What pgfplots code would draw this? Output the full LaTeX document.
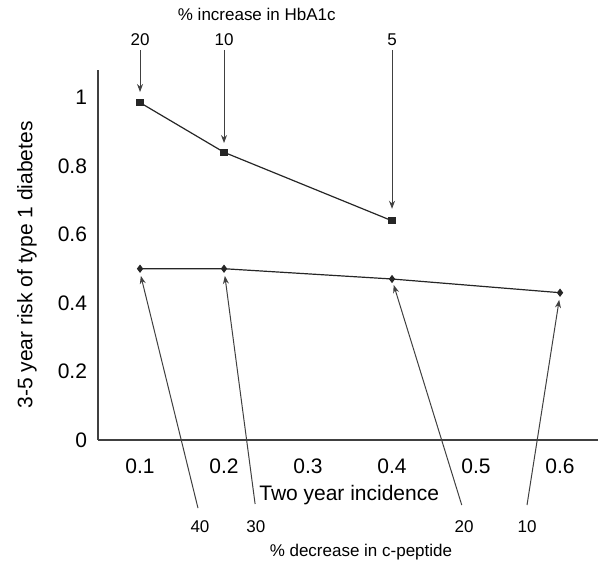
\documentclass[border=0pt]{standalone}
\usepackage{fontspec}
\setmainfont{Liberation Sans}
\usepackage{pgfplots}
\pgfplotsset{compat=1.18}
\usetikzlibrary{arrows.meta}

\begin{document}
\begin{tikzpicture}
\begin{axis}[
    scale only axis,
    width=250pt, height=185pt,
    xmin=0.05, xmax=0.645,
    ymin=0, ymax=1.08,
    axis x line=bottom, axis y line=left,
    axis line style={-, black!75, line width=0.6pt},
    xtick={0.1,0.2,0.3,0.4,0.5,0.6},
    ytick={0,0.2,0.4,0.6,0.8,1},
    major tick length=0pt,
    /pgf/number format/assume math mode=true,
    xticklabel style={font=\fontsize{10.5}{12}\selectfont, yshift=-6pt},
    yticklabel style={font=\fontsize{10.5}{12}\selectfont, xshift=-2pt},
    clip=false,
]
% HbA1c series
\addplot[black!85, line width=0.6pt, mark=square*, mark size=1.5pt]
    coordinates {(0.1,0.985) (0.2,0.84) (0.4,0.64)};
% c-peptide series
\addplot[black!85, line width=0.6pt, mark=diamond*, mark size=1.6pt]
    coordinates {(0.1,0.50) (0.2,0.50) (0.4,0.47) (0.6,0.43)};

% labels
\node[rotate=90, font=\fontsize{10.5}{12}\selectfont] at (axis cs:-0.0345,0.511) {3-5 year risk of type 1 diabetes};
\node[font=\fontsize{10.5}{12}\selectfont] at (axis cs:0.349,-0.1606) {Two year incidence};
\node[font=\fontsize{8.5}{10}\selectfont] at (axis cs:0.239,1.244) {\% increase in HbA1c};
\node[font=\fontsize{8.5}{10}\selectfont] at (axis cs:0.363,-0.327) {\% decrease in c-peptide};

% top arrows
\begin{scope}[font=\fontsize{8.5}{10}\selectfont]
\node at (axis cs:0.1,1.168) {20};
\node at (axis cs:0.2,1.168) {10};
\node at (axis cs:0.4,1.168) {5};
\node at (axis cs:0.1714,-0.254) {40};
\node at (axis cs:0.238,-0.254) {30};
\node at (axis cs:0.4857,-0.254) {20};
\node at (axis cs:0.5607,-0.254) {10};
\end{scope}
\begin{scope}[black!75, line width=0.5pt, -{Stealth[length=4pt,width=3pt]}]
\draw (axis cs:0.1,1.139) -- (axis cs:0.1,1.016);
\draw (axis cs:0.2,1.139) -- (axis cs:0.2,0.867);
\draw (axis cs:0.4,1.139) -- (axis cs:0.4,0.675);
\draw (axis cs:0.169,-0.199) -- (axis cs:0.101,0.479);
\draw (axis cs:0.237,-0.187) -- (axis cs:0.201,0.479);
\draw (axis cs:0.483,-0.19) -- (axis cs:0.402,0.4526);
\draw (axis cs:0.5607,-0.19) -- (axis cs:0.599,0.409);
\end{scope}
\path (axis cs:-0.0667,1.2847) rectangle (axis cs:0.6476,-0.3766);
\end{axis}
\end{tikzpicture}
\end{document}
